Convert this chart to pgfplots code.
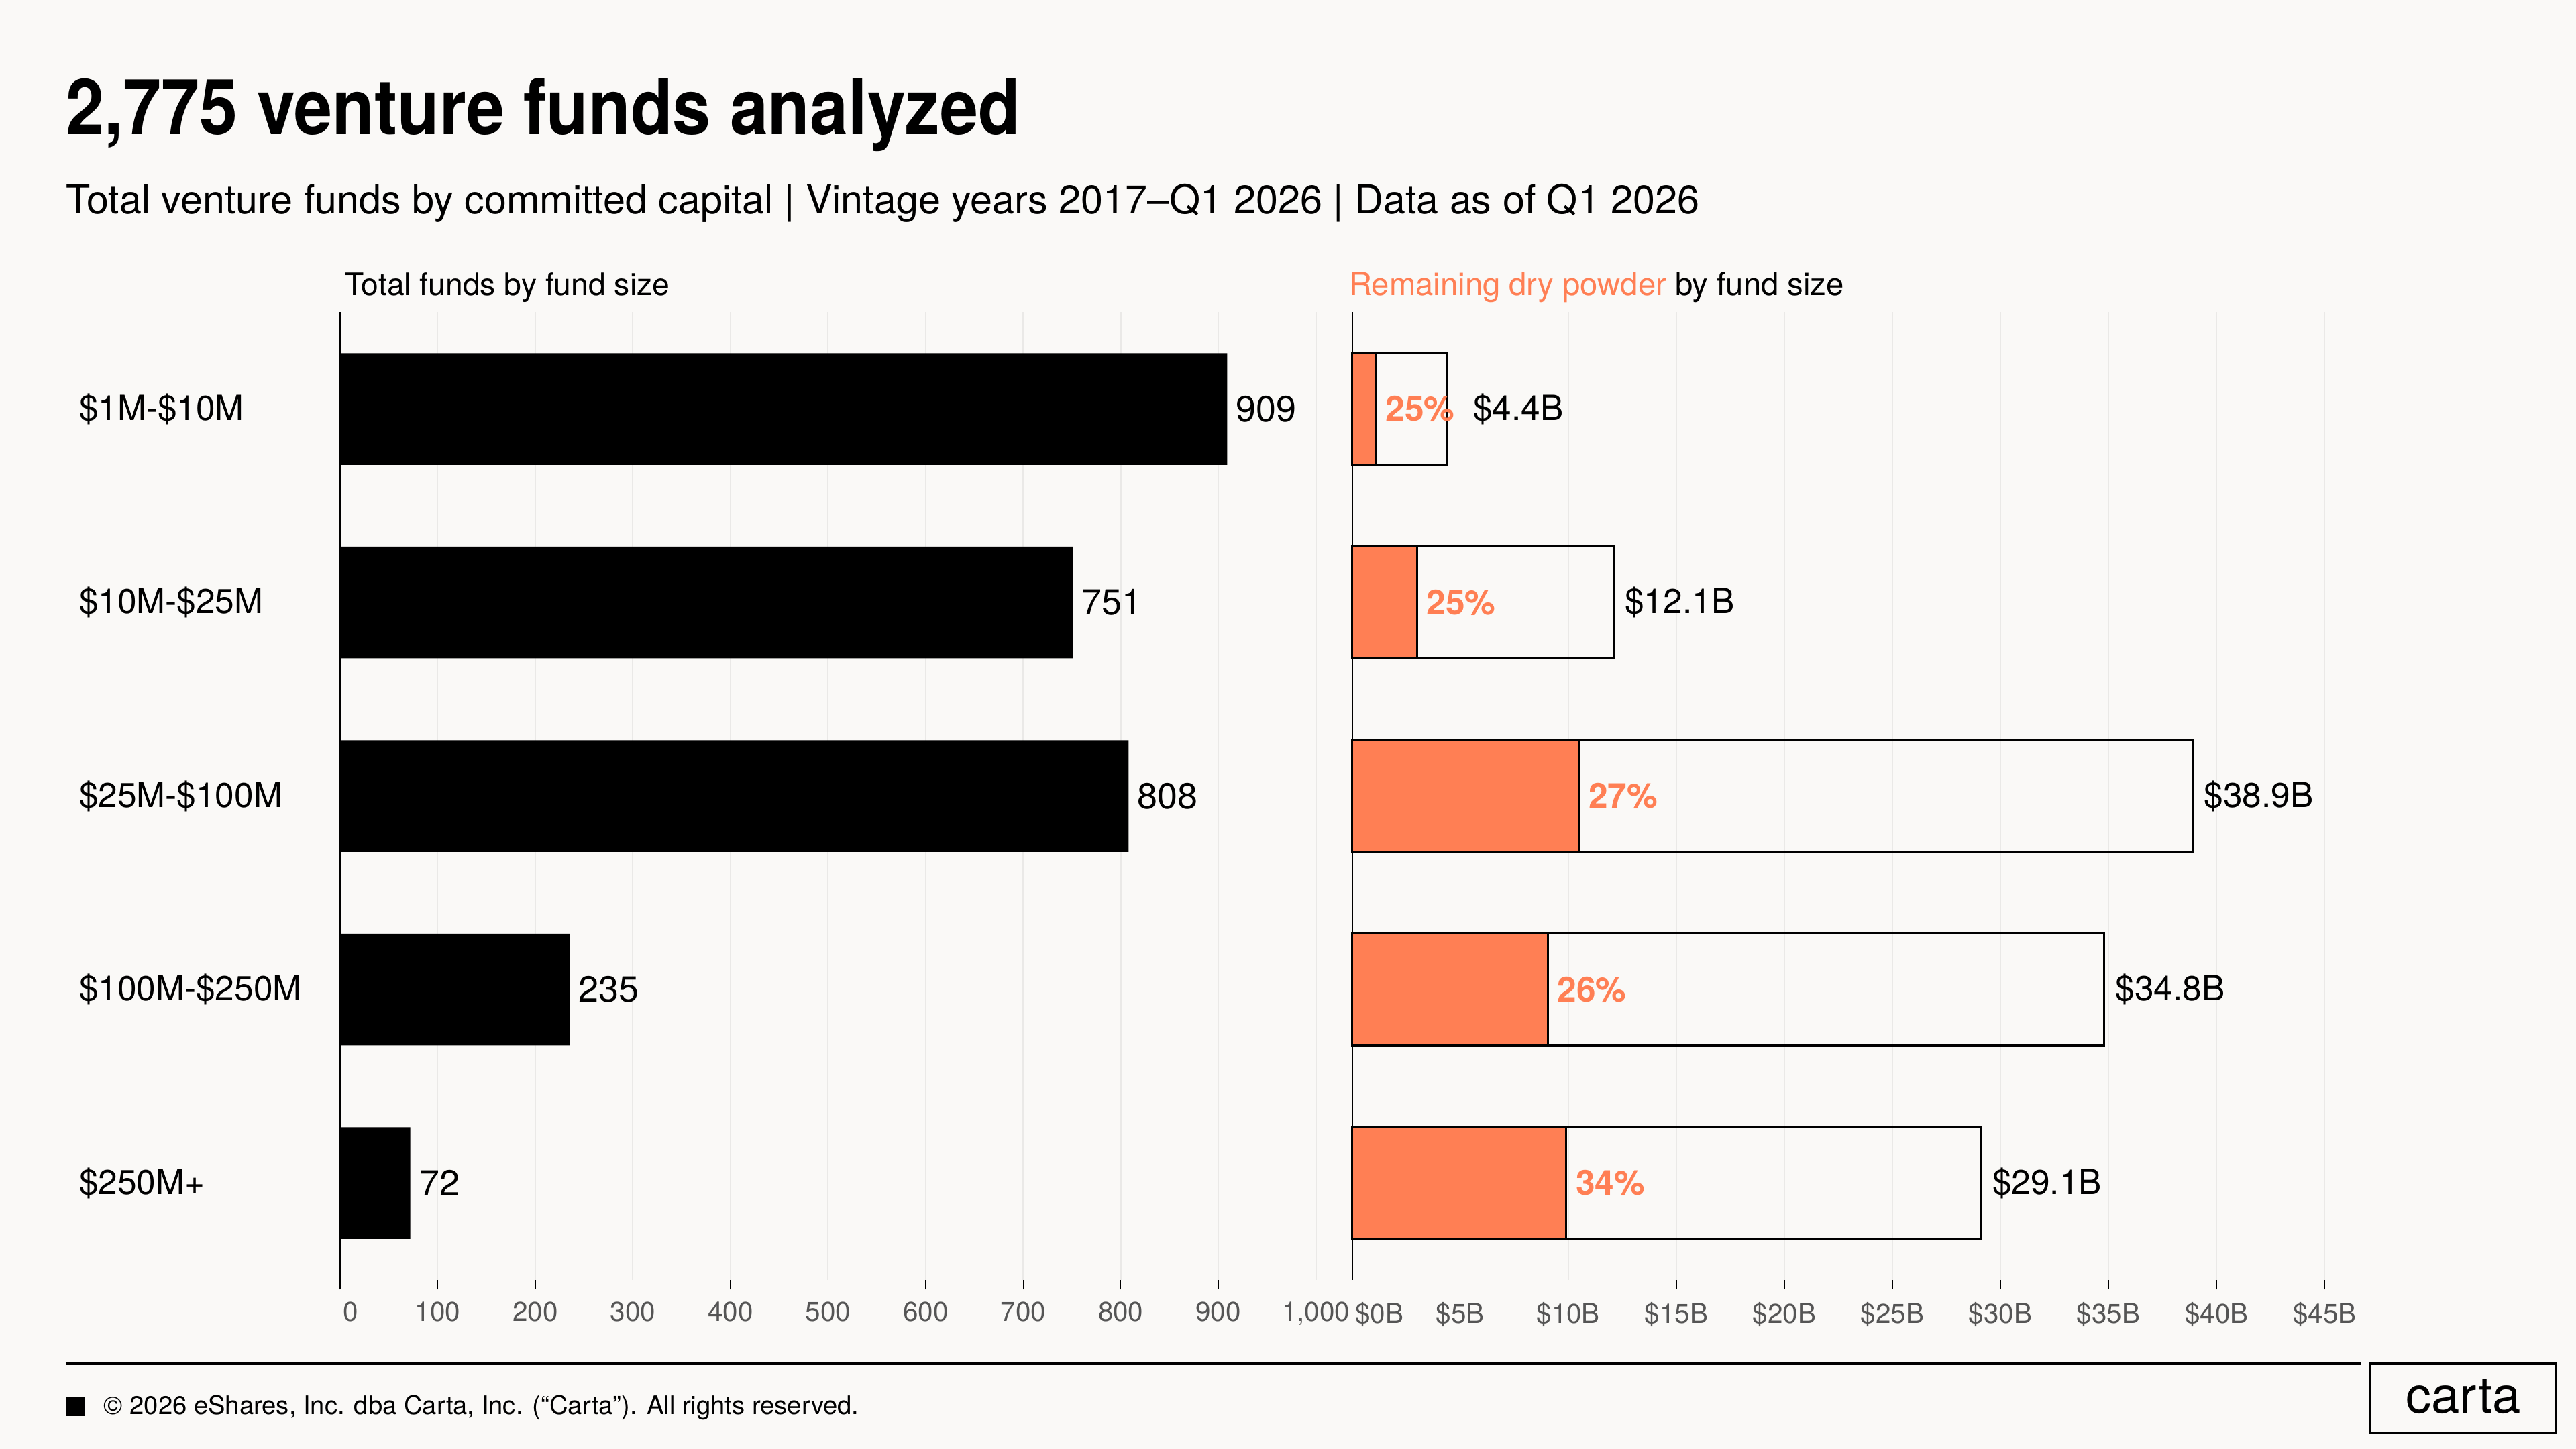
\documentclass[border=0pt]{standalone}
\usepackage{fontspec}
\setmainfont{TeX Gyre Heros}
\newfontfamily\narrow[FakeStretch=0.89]{TeX Gyre Heros}
\usepackage{pgfplots}
\pgfplotsset{compat=1.18}

\definecolor{bg}{RGB}{250,249,247}
\definecolor{coral}{RGB}{255,127,84}
\definecolor{gridgray}{RGB}{234,233,231}
\definecolor{tickgray}{RGB}{85,85,85}
\newcommand{\fs}[1]{\fontsize{#1}{#1}\selectfont}
% first tick label sits just right of its tick
\newcommand{\firstlab}[1]{\makebox[0pt][l]{\kern2pt#1}}

\pgfplotsset{
  panel/.style={
    anchor=south west, scale only axis,
    height=589pt,
    xbar, bar width=68pt,
    ymin=-0.5, ymax=4.5, y dir=reverse,
    axis lines*=left,
    x axis line style={draw=none},
    y axis line style={black, line width=0.8pt},
    xmajorgrids, grid style={gridgray, line width=0.7pt},
    tick align=outside, major tick length=6pt,
    xtick style={black, line width=0.6pt},
    ytick style={draw=none},
    xticklabel style={font=\fs{16.5}, text=tickgray, yshift=-4pt},
    /pgf/number format/assume math mode=true,
    clip=false,
  }
}

\begin{document}
\begin{tikzpicture}
\fill[bg] (0,0) rectangle (1568pt,882pt);
\useasboundingbox (0,0) rectangle (1568pt,882pt);

% titles
\node[anchor=base west, inner sep=0] at (40pt,800pt) {\narrow\bfseries\fs{47}2,775 venture funds analyzed};
\node[anchor=base west, inner sep=0] at (40pt,752pt) {\fs{24.2}Total venture funds by committed capital | Vintage years 2017–Q1 2026 | Data as of Q1 2026};
\node[anchor=base west, inner sep=0] at (210pt,702pt) {\fs{18.9}Total funds by fund size};
\node[anchor=base west, inner sep=0] at (821pt,702pt) {\fs{19.3}\textcolor{coral}{Remaining dry powder} by fund size};

% left panel: number of funds
\begin{axis}[panel,
  at={(207pt,103pt)}, width=594pt,
  xmin=0, xmax=1000,
  xtick={0,100,...,1000},
  xticklabels={\firstlab{0},100,200,300,400,500,600,700,800,900,{1,000}},
  ytick={0,1,2,3,4},
  yticklabels={\$1M-\$10M,\$10M-\$25M,\$25M-\$100M,\$100M-\$250M,\$250M+},
  yticklabel style={font=\fs{21}, anchor=west, xshift=-153pt, inner sep=0pt},
  nodes near coords,
  nodes near coords style={font=\fs{22}, anchor=west, xshift=2pt},
]
\addplot[fill=black, draw=none, bar shift=0pt] coordinates {(909,0) (751,1) (808,2) (235,3) (72,4)};
\end{axis}

% right panel: dry powder
\begin{axis}[panel,
  at={(823pt,103pt)}, width=592pt,
  xmin=0, xmax=45,
  xtick={0,5,...,45},
  xticklabels={\firstlab{\$0B},\$5B,\$10B,\$15B,\$20B,\$25B,\$30B,\$35B,\$40B,\$45B},
  ytick=\empty,
]
% committed capital (outline)
\addplot[fill=none, draw=black, line width=1.2pt, bar shift=0pt,
  point meta=explicit symbolic, nodes near coords,
  nodes near coords style={font=\fs{21}, text=black, anchor=west, xshift=3pt}]
  coordinates {(4.4,0) [\kern9pt\$4.4B] (12.1,1) [\$12.1B] (38.9,2) [\$38.9B] (34.8,3) [\$34.8B] (29.1,4) [\$29.1B]};
% remaining dry powder
\addplot[fill=coral, draw=black, line width=1.2pt, bar shift=0pt,
  point meta=explicit symbolic, nodes near coords,
  nodes near coords style={font=\bfseries\fs{21}, text=coral, anchor=west, xshift=2pt}]
  coordinates {(1.1,0) [25\%] (3.0,1) [25\%] (10.5,2) [27\%] (9.05,3) [26\%] (9.9,4) [34\%]};
\end{axis}

% footer
\draw[black, line width=1.6pt] (40pt,52pt) -- (1437pt,52pt);
\fill[black] (40pt,20pt) rectangle (52pt,32pt);
\node[anchor=base west, inner sep=0] at (63pt,21pt) {\fs{15.6}© 2026 eShares, Inc. dba Carta, Inc. (“Carta”). All rights reserved.};
\draw[black, line width=1.2pt] (1443pt,10pt) rectangle (1556pt,52pt);
\draw[black, line width=1.6pt] (1443pt,52pt) -- (1556pt,52pt);
\draw[black, line width=1.6pt] (1443pt,10pt) -- (1556pt,10pt);
\node[inner sep=0] at (1499.5pt,32pt) {\fs{31}carta};
\end{tikzpicture}
\end{document}
